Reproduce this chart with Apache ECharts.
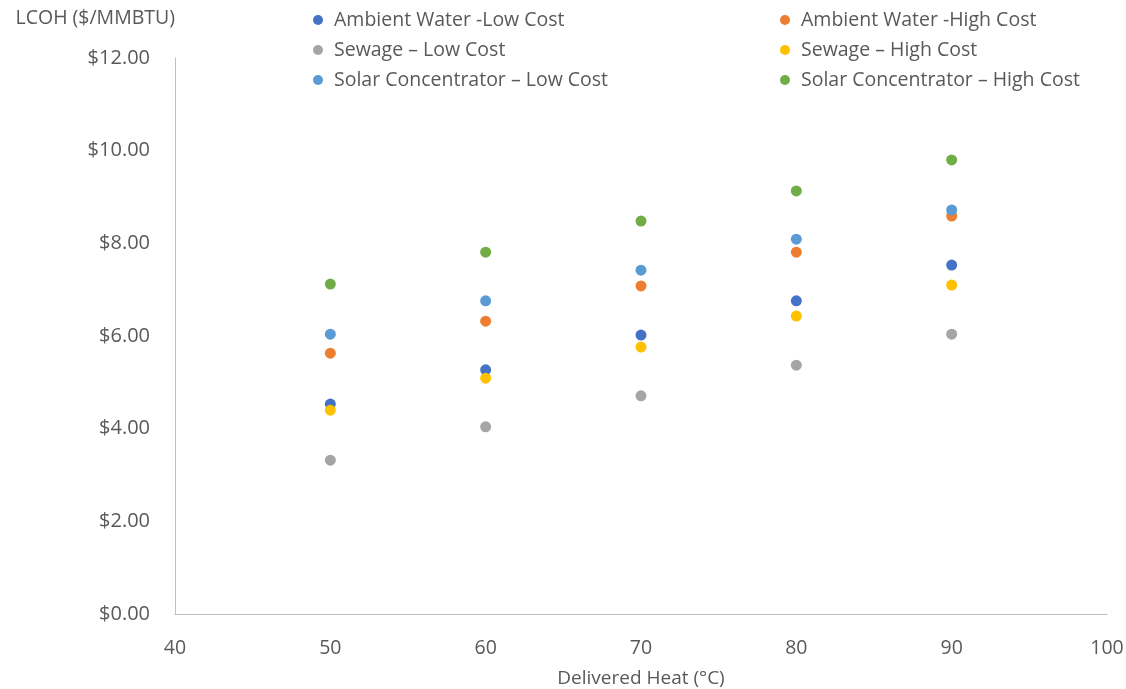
<!DOCTYPE html>
<html><head><meta charset="utf-8">
<script src="https://cdn.jsdelivr.net/npm/echarts@6/dist/echarts.min.js"></script>
<style>html,body{margin:0;padding:0;background:#fff}#c{width:1126px;height:689px}</style>
</head><body><div id="c"></div>
<script>
const xValues = [50, 60, 70, 80, 90];
const seriesNames = [
  "Ambient Water -Low Cost", "Ambient Water -High Cost",
  "Sewage \u2013 Low Cost", "Sewage \u2013 High Cost",
  "Solar Concentrator \u2013 Low Cost", "Solar Concentrator \u2013 High Cost"
];
const ambientLow  = [4.53, 5.27, 6.02, 6.76, 7.53];
const ambientHigh = [5.63, 6.32, 7.08, 7.81, 8.59];
const sewageLow   = [3.32, 4.04, 4.71, 5.37, 6.04];
const sewageHigh  = [4.40, 5.09, 5.76, 6.43, 7.10];
const solarLow    = [6.04, 6.76, 7.42, 8.09, 8.72];
const solarHigh   = [7.12, 7.81, 8.48, 9.13, 9.80];
const colors = ["#4472C4", "#ED7D31", "#A5A5A5", "#FFC000", "#5B9BD5", "#70AD47"];
const allData = [ambientLow, ambientHigh, sewageLow, sewageHigh, solarLow, solarHigh];

const font = "'Open Sans', 'Noto Sans', sans-serif";
const txt = "#595959";
const chart = echarts.init(document.getElementById('c'));
const legendText = {color: txt, fontSize: 19.5, fontFamily: font, padding: [0, 0, 0, 6]};
chart.setOption({
  animation: false,
  color: colors,
  textStyle: {fontFamily: font},
  grid: {left: 175, right: 19, top: 58, bottom: 75, containLabel: false, outerBoundsMode: 'none'},
  legend: [
    {data: [seriesNames[0], seriesNames[2], seriesNames[4]], orient: 'vertical', left: 308, top: 5, itemGap: 10,
     icon: 'circle', itemWidth: 10, itemHeight: 10, textStyle: legendText},
    {data: [seriesNames[1], seriesNames[3], seriesNames[5]], orient: 'vertical', left: 775, top: 5, itemGap: 10,
     icon: 'circle', itemWidth: 10, itemHeight: 10, textStyle: legendText}
  ],
  xAxis: {
    type: 'value', min: 40, max: 100, interval: 10,
    name: 'Delivered Heat (\u00B0C)', nameLocation: 'middle', nameGap: 55,
    nameTextStyle: {color: txt, fontSize: 19, fontFamily: font},
    axisLine: {show: true, lineStyle: {color: '#BFBFBF'}},
    axisTick: {show: false}, splitLine: {show: false},
    axisLabel: {color: txt, fontSize: 19.5, margin: 24, fontFamily: font}
  },
  yAxis: {
    type: 'value', min: 0, max: 12, interval: 2,
    name: 'LCOH ($/MMBTU)', nameLocation: 'end', nameGap: 30,
    nameTextStyle: {color: txt, fontSize: 19.5, fontFamily: font, align: 'right', padding: [0, 0, 0, 0]},
    axisLine: {show: true, lineStyle: {color: '#BFBFBF'}},
    axisTick: {show: false}, splitLine: {show: false},
    axisLabel: {color: txt, fontSize: 20, margin: 25, fontFamily: font,
      formatter: v => '$' + v.toFixed(2)}
  },
  series: seriesNames.map((n, i) => ({
    name: n, type: 'scatter', symbolSize: 11, itemStyle: {opacity: 1},
    data: xValues.map((x, j) => [x, allData[i][j]])
  }))
});
</script></body></html>
